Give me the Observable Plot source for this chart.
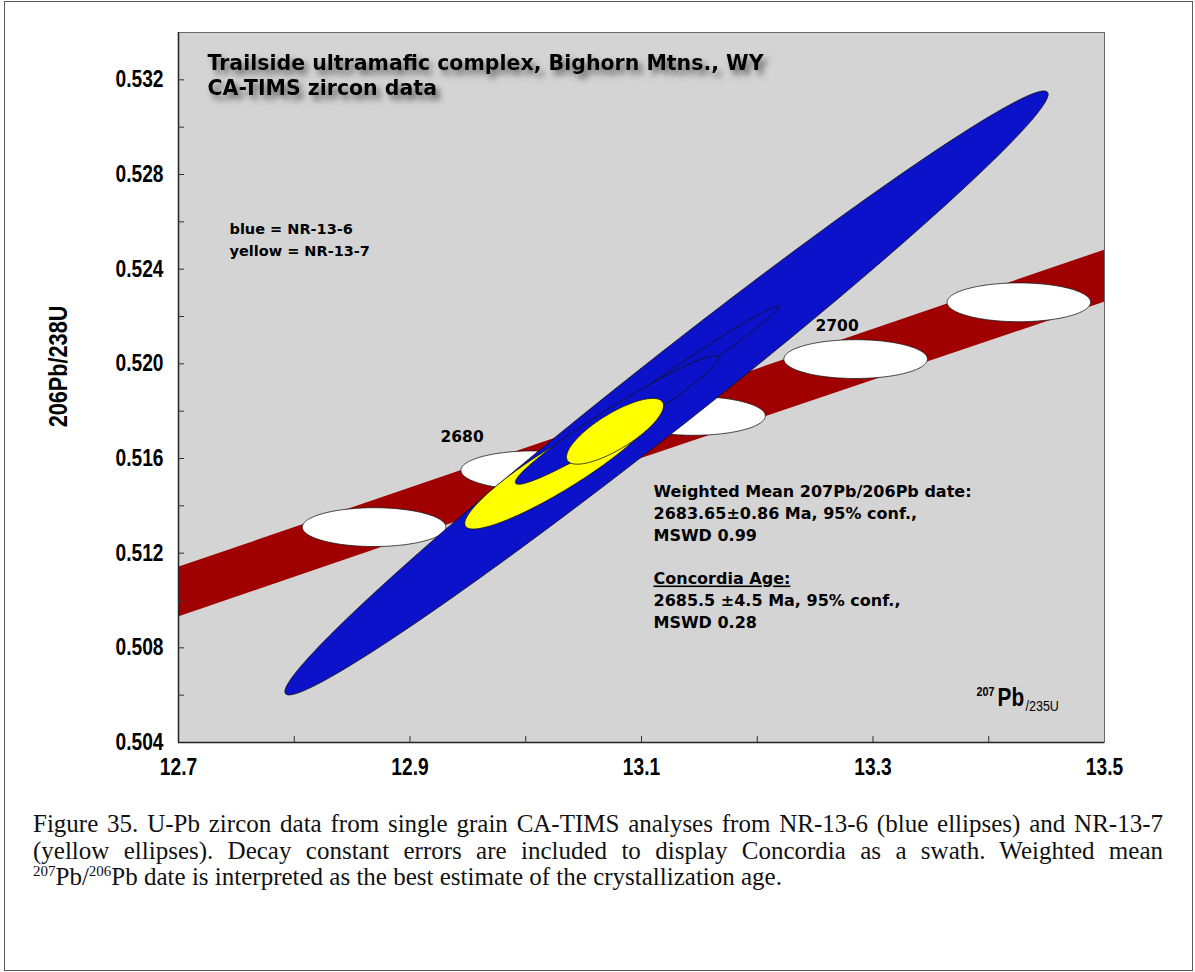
<!DOCTYPE html>
<html><head><meta charset="utf-8">
<script src="https://cdn.jsdelivr.net/npm/d3@7"></script>
<script src="https://cdn.jsdelivr.net/npm/@observablehq/plot@0.6"></script>
<style>
html,body{margin:0;padding:0;background:#fff;}
#page{position:relative;width:1195px;height:972px;overflow:hidden;}
#border{position:absolute;left:4px;top:1px;width:1187px;height:968px;border:1.5px solid #5a5a5a;}
#chart{position:absolute;left:0;top:0;}
#caption{position:absolute;left:33px;top:811px;width:1130px;font-family:"Liberation Serif",serif;font-size:25px;line-height:26.5px;color:#111;}
#caption div.j{text-align:justify;text-align-last:justify;white-space:nowrap;}
#caption sup{font-size:60%;vertical-align:0.6em;line-height:0;}
</style></head><body>
<div id="page"><div id="border"></div><div id="chart"></div><div id="caption"></div></div>
<script>
// ---------- data ----------
const xDomain = [12.7, 13.5];
const yDomain = [0.504, 0.534];
const xTickLabels = [12.7, 12.9, 13.1, 13.3, 13.5];
const xTicks = [12.8, 12.9, 13.0, 13.1, 13.2, 13.3, 13.4];
const yTickLabels = [0.504, 0.508, 0.512, 0.516, 0.520, 0.524, 0.528, 0.532];
const yTicks = [0.506, 0.508, 0.510, 0.512, 0.514, 0.516, 0.518, 0.520, 0.522, 0.524, 0.526, 0.528, 0.530, 0.532];

// Concordia swath (207Pb/235U, lower and upper 206Pb/238U edge)
const bandX = [12.7, 13.1, 13.5];
const bandLow = [0.5093, 0.5160, 0.5226];
const bandHigh = [0.5114, 0.5181, 0.5248];

// Concordia age markers (Ma)
const markerAges = [2670, 2680, 2690, 2700, 2710];
const markerX = [12.869, 13.006, 13.145, 13.285, 13.426];
const markerY = [0.5131, 0.5155, 0.5178, 0.5202, 0.5226];
const markerErrX = [0.062, 0.062, 0.062, 0.062, 0.062];
const markerErrY = [0.00082, 0.00082, 0.00082, 0.00082, 0.00082];

const ageLabels = ["2680", "2700"];
const ageLabelX = [12.945, 13.269];
const ageLabelY = [0.5169, 0.5216];

// zircon analyses (draw order), error ellipses
const analysisSample = ["NR-13-6", "NR-13-6", "NR-13-7", "NR-13-6", "NR-13-7"];
const analysisX = [13.1216, 13.1307, 13.0300, 13.0788, 13.0771];
const analysisErrX = [0.3297, 0.0878, 0.0827, 0.0878, 0.0419];
const analysisY = [0.51877, 0.51951, 0.51563, 0.51763, 0.51715];
const analysisErrY = [0.01276, 0.00292, 0.00261, 0.00272, 0.00139];
const analysisRho = [0.989, 0.990, 0.910, 0.967, 0.779];

const sampleNames = ["NR-13-6", "NR-13-7"];
const sampleColors = ["#0b12c9", "#ffff00"];

const titleLines = ["Trailside ultramafic complex, Bighorn Mtns., WY", "CA-TIMS zircon data"];
const legendLines = ["blue = NR-13-6", "yellow = NR-13-7"];
const noteLines = ["Weighted Mean 207Pb/206Pb date:", "2683.65\u00b10.86 Ma, 95% conf.,", "MSWD 0.99", "", "Concordia Age:", "2685.5 \u00b14.5 Ma, 95% conf.,", "MSWD 0.28"];
const yLabel = "206Pb/238U";
const captionLines = [
  "Figure 35. U-Pb zircon data from single grain CA-TIMS analyses from NR-13-6 (blue ellipses) and NR-13-7",
  "(yellow ellipses). Decay constant errors are included to display Concordia as a swath. Weighted mean",
  "<sup>207</sup>Pb/<sup>206</sup>Pb date is interpreted as the best estimate of the crystallization age."
];

// ---------- geometry helper: error ellipse outline ----------
function outline(cx, cy, ex, ey, rho, n = 180) {
  const s = Math.sqrt(1 - rho * rho);
  return d3.range(n).map(i => {
    const t = 2 * Math.PI * i / n;
    return {x: cx + ex * Math.cos(t), y: cy + ey * (rho * Math.cos(t) + s * Math.sin(t))};
  });
}

const NARROW = "Liberation Sans Narrow, Liberation Sans, Arial, sans-serif";
const TAHOMA = "DejaVu Sans, Verdana, sans-serif";

const bandData = bandX.map((x, i) => ({x, lo: bandLow[i], hi: bandHigh[i]}));

const markerMarks = markerAges.map((a, i) =>
  Plot.line(outline(markerX[i], markerY[i], markerErrX[i], markerErrY[i], 0), {
    x: "x", y: "y", fill: "white", stroke: "#1a1a1a", strokeWidth: 0.8, curve: "linear-closed"
  }));

const ellipseMarks = analysisSample.map((s, i) =>
  Plot.line(outline(analysisX[i], analysisY[i], analysisErrX[i], analysisErrY[i], analysisRho[i]), {
    x: "x", y: "y", fill: sampleColors[sampleNames.indexOf(s)], stroke: "#111", strokeWidth: 0.8, curve: "linear-closed"
  }));

const ageLabelData = ageLabels.map((t, i) => ({t, x: ageLabelX[i], y: ageLabelY[i]}));

const chart = Plot.plot({
  width: 1195, height: 790,
  marginLeft: 178, marginRight: 91, marginTop: 32, marginBottom: 48,
  x: {domain: xDomain},
  y: {domain: yDomain},
  style: {background: "transparent", fontFamily: "Liberation Sans, Arial, sans-serif", fontSize: "16px", color: "#000", overflow: "visible"},
  marks: [
    Plot.frame({fill: "#d4d4d4", stroke: null}),
    Plot.areaY(bandData, {x: "x", y1: "lo", y2: "hi", fill: "#a00000"}),
    ...markerMarks,
    ...ellipseMarks,
    Plot.text(ageLabelData, {x: "x", y: "y", text: "t", fontFamily: TAHOMA, fontWeight: "bold", fontSize: 15.5, fill: "#000"}),
    Plot.frame({stroke: "#6a6a6a", strokeWidth: 1}),
    Plot.ruleX([xDomain[0]], {stroke: "#222", strokeWidth: 1.5}),
    Plot.ruleY([yDomain[0]], {stroke: "#222", strokeWidth: 1.5}),
    Plot.axisX(xTicks, {tickSize: -6, tickFormat: () => "", label: null, stroke: "#333"}),
    Plot.axisX(xTickLabels, {tickSize: 0, tickPadding: 16, tickFormat: d3.format(".1f"), label: null,
      fontFamily: NARROW, fontWeight: "bold", fontSize: 23}),
    Plot.axisY(yTicks, {tickSize: -6, tickFormat: () => "", label: null, stroke: "#333"}),
    Plot.axisY(yTickLabels, {tickSize: 0, tickPadding: 15, tickFormat: d3.format(".3f"), label: null,
      fontFamily: NARROW, fontWeight: "bold", fontSize: 23}),
    Plot.text([yLabel], {frameAnchor: "left", dx: -120, dy: -21, rotate: -90, textAnchor: "middle",
      fontFamily: NARROW, fontWeight: "bold", fontSize: 26}),
    Plot.text([titleLines.join("\n")], {frameAnchor: "top-left", dx: 29, dy: 20, lineAnchor: "top", textAnchor: "start",
      lineHeight: 1.22, fontFamily: TAHOMA, fontWeight: "bold", fontSize: 20.5}),
    Plot.text([legendLines.join("\n")], {frameAnchor: "top-left", dx: 51, dy: 185.4, lineAnchor: "top", textAnchor: "start",
      lineHeight: 1.52, fontFamily: TAHOMA, fontWeight: "bold", fontSize: 14.5}),
    Plot.text([noteLines.join("\n")], {frameAnchor: "top-left", dx: 475, dy: 449.5, lineAnchor: "top", textAnchor: "start",
      lineHeight: 1.36, fontFamily: TAHOMA, fontWeight: "bold", fontSize: 16}),
    Plot.text(["207"], {frameAnchor: "bottom-right", dx: -110, dy: -47, textAnchor: "end",
      fontFamily: NARROW, fontWeight: "bold", fontSize: 13}),
    Plot.text(["Pb"], {frameAnchor: "bottom-right", dx: -107, dy: -37, textAnchor: "start",
      fontFamily: NARROW, fontWeight: "bold", fontSize: 25}),
    Plot.text(["/235U"], {frameAnchor: "bottom-right", dx: -79, dy: -32, textAnchor: "start",
      fontFamily: NARROW, fontWeight: "normal", fontSize: 15})
  ]
});

document.getElementById("chart").appendChild(chart);

// caption
const cap = d3.select("#caption");
captionLines.forEach((l, i) => cap.append("div").attr("class", i < 2 ? "j" : "").html(l));

// ---------- post-processing (styling only) ----------
const svg = d3.select(chart);
// condense the Arial-Narrow-like labels: scale so that "0.532" is ~48px wide
const probe = svg.append("text").attr("font-family", NARROW).attr("font-weight", "bold").attr("font-size", 23).text("0.532");
const k = Math.min(1, 48 / probe.node().getComputedTextLength());
probe.remove();
if (k < 0.99) {
  svg.selectAll("g").filter(function() { const f = this.getAttribute("font-family"); return f && f.startsWith("Liberation Sans Narrow"); })
    .selectAll("text").each(function() {
      const len = this.getComputedTextLength();
      if (len > 0) { this.setAttribute("textLength", (len * k).toFixed(1)); this.setAttribute("lengthAdjust", "spacingAndGlyphs"); }
    });
}
// title drop shadow
const defs = svg.insert("defs", ":first-child");
const f = defs.append("filter").attr("id", "tshadow").attr("x", "-5%").attr("y", "-20%").attr("width", "115%").attr("height", "160%");
f.append("feDropShadow").attr("dx", 4).attr("dy", 5).attr("stdDeviation", 3).attr("flood-color", "#444").attr("flood-opacity", 0.8);
svg.selectAll("text").filter(function() { return this.textContent.startsWith("Trailside"); }).attr("filter", "url(#tshadow)");
// underline heading
svg.selectAll("tspan").filter(function() { return this.textContent === "Concordia Age:"; }).attr("text-decoration", "underline");
</script>
</body></html>
